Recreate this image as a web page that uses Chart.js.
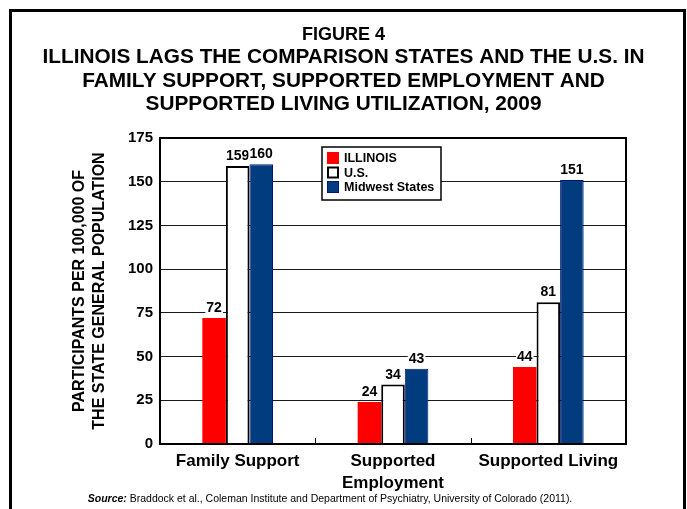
<!DOCTYPE html>
<html>
<head>
<meta charset="utf-8">
<script src="https://cdn.jsdelivr.net/npm/chart.js@4.4.1/dist/chart.umd.min.js"></script>
<style>
  html, body { margin: 0; padding: 0; background: #fff; }
  #wrap { position: relative; width: 687px; height: 509px; }
</style>
</head>
<body>
<div id="wrap"><canvas id="fig4" width="687" height="509"></canvas></div>
<script>
// Figure 4 - family support / supported employment / supported living, 2009
var categories = [['Family Support'], ['Supported', 'Employment'], ['Supported Living']];
var seriesNames = ['ILLINOIS', 'U.S.', 'Midwest States'];
var illinois = [72, 24, 44];
var usValues = [159, 34, 81];
var midwest = [160, 43, 151];
var yTicks = [0, 25, 50, 75, 100, 125, 150, 175];

var titleLines = [
    'FIGURE 4',
    'ILLINOIS LAGS THE COMPARISON STATES AND THE U.S. IN',
    'FAMILY SUPPORT, SUPPORTED EMPLOYMENT AND',
    'SUPPORTED LIVING UTILIZATION, 2009'
];
var yTitle = ['PARTICIPANTS PER 100,000 OF', 'THE STATE GENERAL POPULATION'];
var sourceLabel = 'Source:';
var sourceText = ' Braddock et al., Coleman Institute and Department of Psychiatry, University of Colorado (2011).';

var FONT = '"Liberation Sans", Arial, Helvetica, sans-serif';

// frame, title, y title and source line
var decorPlugin = {
    id: 'decor',
    afterDraw: function (chart) {
        var ctx = chart.ctx;
        var area = chart.chartArea;
        ctx.save();
        ctx.strokeStyle = '#000';
        ctx.lineWidth = 3;
        ctx.strokeRect(10.5, 10.5, 674, 600);

        ctx.fillStyle = '#000';
        ctx.textAlign = 'center';
        ctx.textBaseline = 'alphabetic';
        ctx.font = 'bold 18px ' + FONT;
        ctx.fillText(titleLines[0], 343.5, 40);
        ctx.font = 'bold 20.8px ' + FONT;
        ctx.fillText(titleLines[1], 343.5, 63);
        ctx.fillText(titleLines[2], 343.5, 87);
        ctx.fillText(titleLines[3], 343.5, 110);

        // rotated axis title, two lines
        ctx.save();
        ctx.translate(chart.scales.y.left + 70, (area.top + area.bottom) / 2);
        ctx.rotate(-Math.PI / 2);
        ctx.font = 'bold 16px ' + FONT;
        ctx.textBaseline = 'middle';
        ctx.fillText(yTitle[0], 0, 0);
        ctx.fillText(yTitle[1], 0, 20);
        ctx.restore();

        ctx.textAlign = 'left';
        ctx.font = 'italic bold 10.5px ' + FONT;
        var w1 = ctx.measureText(sourceLabel).width;
        ctx.font = '10.5px ' + FONT;
        var w2 = ctx.measureText(sourceText).width;
        var sx = 330 - (w1 + w2) / 2;
        ctx.font = 'italic bold 10.5px ' + FONT;
        ctx.fillText(sourceLabel, sx, 502);
        ctx.font = '10.5px ' + FONT;
        ctx.fillText(sourceText, sx + w1, 502);
        ctx.restore();
    }
};

// plot frame, inward category ticks, value labels, legend box
var plotExtras = {
    id: 'plotExtras',
    afterDatasetsDraw: function (chart) {
        var ctx = chart.ctx;
        var area = chart.chartArea;
        var xs = chart.scales.x;
        ctx.save();

        ctx.strokeStyle = '#000';
        ctx.lineWidth = 2;
        ctx.strokeRect(area.left, area.top, area.right - area.left, area.bottom - area.top);

        ctx.lineWidth = 1;
        for (var i = 0; i < categories.length - 1; i++) {
            var bx = Math.round((xs.getPixelForValue(i) + xs.getPixelForValue(i + 1)) / 2) + 0.5;
            ctx.beginPath();
            ctx.moveTo(bx, area.bottom);
            ctx.lineTo(bx, area.bottom - 6);
            ctx.stroke();
        }

        ctx.font = 'bold 14px ' + FONT;
        ctx.textAlign = 'center';
        ctx.textBaseline = 'alphabetic';
        chart.data.datasets.forEach(function (ds, di) {
            var meta = chart.getDatasetMeta(di);
            meta.data.forEach(function (bar, j) {
                var txt = String(ds.data[j]);
                var tw = ctx.measureText(txt).width;
                var ty = bar.y - 6;
                ctx.fillStyle = '#fff';
                ctx.fillRect(bar.x - tw / 2 - 1, ty - 11, tw + 2, 13);
                ctx.fillStyle = '#000';
                ctx.fillText(txt, bar.x, ty);
            });
        });

        // legend
        var lx = area.left + 162;
        var ly = area.top + 9;
        ctx.fillStyle = '#fff';
        ctx.fillRect(lx, ly, 119, 53);
        ctx.lineWidth = 1.5;
        ctx.strokeStyle = '#000';
        ctx.strokeRect(lx, ly, 119, 53);
        ctx.font = 'bold 12.5px ' + FONT;
        ctx.textAlign = 'left';
        chart.data.datasets.forEach(function (ds, di) {
            var ry = ly + 5 + di * 14.5;
            ctx.fillStyle = ds.backgroundColor;
            ctx.fillRect(lx + 5, ry, 12, 12);
            if (ds.borderWidth) {
                ctx.lineWidth = ds.borderWidth;
                ctx.strokeStyle = ds.borderColor;
                ctx.strokeRect(lx + 5 + ds.borderWidth / 2, ry + ds.borderWidth / 2,
                    12 - ds.borderWidth, 12 - ds.borderWidth);
            }
            ctx.fillStyle = '#000';
            ctx.fillText(ds.label, lx + 22, ry + 10);
        });
        ctx.restore();
    }
};

var ctx = document.getElementById('fig4').getContext('2d');
new Chart(ctx, {
    type: 'bar',
    data: {
        labels: categories,
        datasets: [
            { label: seriesNames[0], data: illinois, backgroundColor: '#ff0000', borderWidth: 0 },
            { label: seriesNames[1], data: usValues, backgroundColor: '#ffffff', borderColor: '#000000', borderWidth: 2 },
            { label: seriesNames[2], data: midwest, backgroundColor: '#013c7e', borderColor: '#00167a', borderWidth: 1 }
        ]
    },
    options: {
        responsive: false,
        animation: false,
        layout: { padding: { top: 138, left: 10, right: 61, bottom: 0 } },
        datasets: { bar: { barPercentage: 1, categoryPercentage: 0.455, borderSkipped: 'bottom' } },
        plugins: {
            legend: { display: false },
            tooltip: { enabled: false },
            title: { display: false }
        },
        scales: {
            x: {
                grid: { display: false, drawTicks: false },
                border: { display: true, color: '#000', width: 2 },
                ticks: {
                    color: '#000',
                    padding: 7,
                    maxRotation: 0,
                    autoSkip: false,
                    font: { family: FONT, size: 17, weight: 'bold', lineHeight: 1.25 }
                },
                afterFit: function (scale) { scale.height = 65; }
            },
            y: {
                min: 0,
                max: 175,
                afterBuildTicks: function (scale) {
                    scale.ticks = yTicks.map(function (v) { return { value: v }; });
                },
                grid: { color: '#1a1a1a', lineWidth: 1, drawTicks: false },
                border: { display: true, color: '#000', width: 2 },
                ticks: {
                    color: '#000',
                    padding: 7,
                    font: { family: FONT, size: 15, weight: 'bold' }
                },
                title: { display: false },
                afterFit: function (scale) { scale.width = 150; }
            }
        }
    },
    plugins: [decorPlugin, plotExtras]
});
</script>
</body>
</html>
